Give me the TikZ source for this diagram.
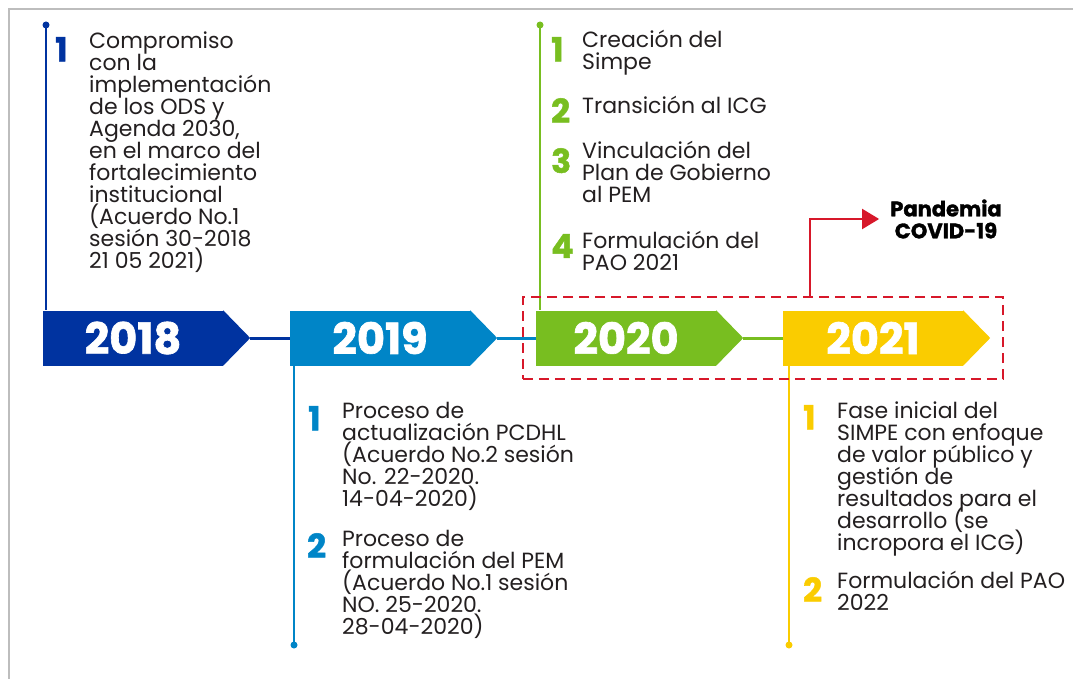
\documentclass[tikz,border=0pt]{standalone}
\usepackage{fontspec}
\setmainfont{Poppins}
\newfontfamily\heavyfont{Poppins}[FakeBold=1.5]
\usepackage{tikz}
\usetikzlibrary{arrows.meta, positioning, calc, fit}
\usepackage{xcolor}
\definecolor{cNavy}{HTML}{0033A0}
\definecolor{cSky}{HTML}{0085C7}
\definecolor{cLime}{HTML}{78BE20}
\definecolor{cGold}{HTML}{FACC00}
\definecolor{cRed}{HTML}{D7182A}
\definecolor{cInk}{HTML}{231F20}
\definecolor{cFrame}{HTML}{BDBDBD}
\newcommand\tightlines{\lineskiplimit=-20pt\relax}
\tikzset{
  yearbox/.style={
    fill=#1, minimum width=180pt, minimum height=55pt,
    inner sep=0pt, text=white,
    font=\fontsize{43}{43}\selectfont\heavyfont\bfseries,
  },
  itemtext/.style={
    anchor=base west, align=left, inner sep=0pt,
    font=\fontsize{22}{22}\selectfont\tightlines, text=cInk,
  },
  itemnum/.style={
    anchor=north west, inner sep=0pt, text=#1,
    font=\fontsize{33}{33}\selectfont\heavyfont\bfseries,
  },
  stem/.style={line width=2.5pt, draw=#1},
  link/.style={line width=3pt, draw=#1},
  dot/.style={circle, fill=#1, inner sep=0pt, minimum size=7pt},
  alert/.style={-{Triangle[length=17pt, width=20pt]}, line width=2pt, draw=cRed},
}

\begin{document}
\begin{tikzpicture}[x=1pt, y=-1pt]
  \useasboundingbox (0,0) rectangle (1073,679);

  % Frame
  \draw[cFrame, line width=2pt] (9,679) -- (9,9) -- (1073,9);

  % Year banners
  \node[yearbox=cNavy] (y2018) at (133,338) {2018};
  \node[yearbox=cSky]  (y2019) at (380,338) {2019};
  \node[yearbox=cLime] (y2020) at (626,338) {2020};
  \node[yearbox=cGold] (y2021) at (873,338) {2021};

  \fill[cNavy] (y2018.north east) -- ($(y2018.east)+(27,0)$) coordinate (t2018) -- (y2018.south east) -- cycle;
  \fill[cSky]  (y2019.north east) -- ($(y2019.east)+(27,0)$) coordinate (t2019) -- (y2019.south east) -- cycle;
  \fill[cLime] (y2020.north east) -- ($(y2020.east)+(27,0)$) coordinate (t2020) -- (y2020.south east) -- cycle;
  \fill[cGold] (y2021.north east) -- ($(y2021.east)+(27,0)$) coordinate (t2021) -- (y2021.south east) -- cycle;

  % Banner links
  \draw[link=cNavy] (t2018) -- (y2019.west);
  \draw[link=cSky]  (t2019) -- (y2020.west);
  \draw[link=cLime] (t2020) -- (y2021.west);

  % Stems
  \node[dot=cNavy] (d2018) at (46,25) {};
  \node[dot=cSky]  (d2019) at (294,645) {};
  \node[dot=cLime] (d2020) at (540,25) {};
  \node[dot=cGold] (d2021) at (789,645) {};
  \draw[stem=cNavy] (d2018.center) -- (d2018 |- y2018.north);
  \draw[stem=cSky]  (d2019.center) -- (d2019 |- y2019.south);
  \draw[stem=cLime] (d2020.center) -- (d2020 |- y2020.north);
  \draw[stem=cGold] (d2021.center) -- (d2021 |- y2021.south);

  % 2018 (text nodes sit on the baseline of their last line)
  \node[itemnum=cNavy] (n18a) at (55,37) {1};
  \node[itemtext] (t18a) at (89,268) {Compromiso\\con la\\implementación\\de los ODS y\\Agenda 2030,\\en el marco del\\fortalecimiento\\institucional\\(Acuerdo No.1\\sesión 30-2018\\21 05 2021)};

  % 2019
  \node[itemnum=cSky] (n19a) at (308,406) {1};
  \node[itemtext] (t19a) at (342,506) {Proceso de\\actualización PCDHL\\(Acuerdo No.2 sesión\\No. 22-2020.\\14-04-2020)};
  \node[itemnum=cSky] (n19b) at (307,533) {2};
  \node[itemtext] (t19b) at (342,634) {Proceso de\\formulación del PEM\\(Acuerdo No.1 sesión\\NO. 25-2020.\\28-04-2020)};

  % 2020
  \node[itemnum=cLime] (n20a) at (551,37) {1};
  \node[itemtext] (t20a) at (582,70) {Creación del\\Simpe};
  \node[itemnum=cLime] (n20b) at (551,98) {2};
  \node[itemtext] (t20b) at (582,114) {Transición al ICG};
  \node[itemnum=cLime] (n20c) at (551,148) {3};
  \node[itemtext] (t20c) at (582,203) {Vinculación del\\Plan de Gobierno\\al PEM};
  \node[itemnum=cLime] (n20d) at (551,234) {4};
  \node[itemtext] (t20d) at (582,270) {Formulación del\\PAO 2021};

  % 2021
  \node[itemnum=cGold] (n21a) at (803,405) {1};
  \node[itemtext] (t21a) at (837,550) {Fase inicial del\\SIMPE con enfoque\\de valor público y\\gestión de\\resultados para el\\desarrollo (se\\incropora el ICG)};
  \node[itemnum=cGold] (n21b) at (803,577) {2};
  \node[itemtext] (t21b) at (837,610) {Formulación del PAO\\2022};

  % Pandemic window
  \node[draw=cRed, dashed, dash pattern=on 10pt off 6pt, line width=2pt,
        inner sep=13pt, fit=(y2020)(t2021)] (covid) {};
  \node[font=\fontsize{21}{22}\selectfont\heavyfont\bfseries, text=black, align=center,
        inner sep=0pt] (pandemia) at (946,219) {Pandemia\\COVID-19};
  \coordinate (riseX) at (810,0);
  \draw[alert, shorten >=11pt] (covid.north -| riseX) |- (pandemia.west);

\end{tikzpicture}
\end{document}
